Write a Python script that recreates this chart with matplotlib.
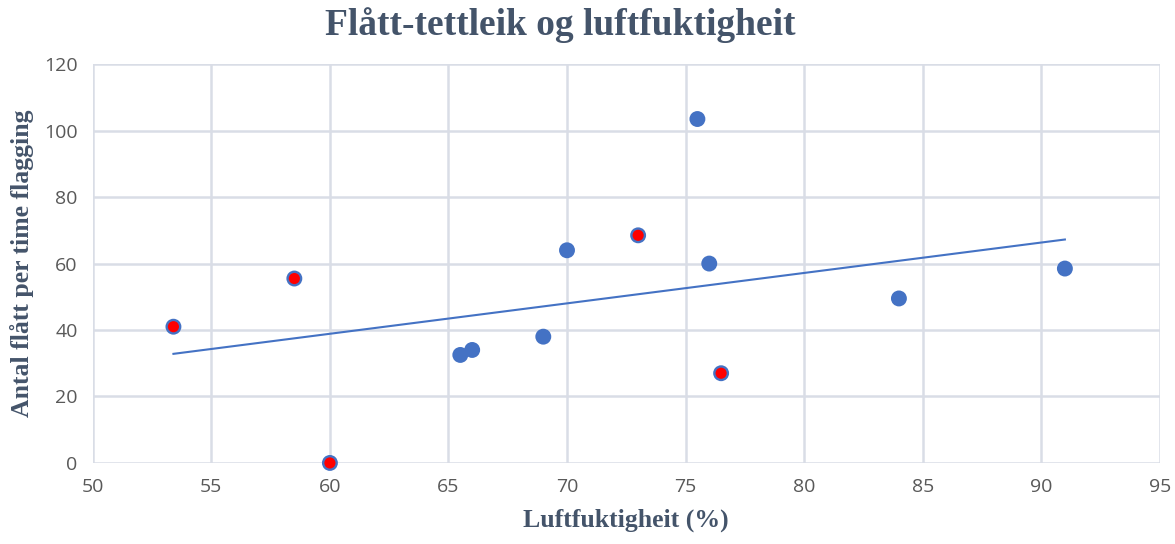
import numpy as np
import matplotlib.pyplot as plt

# === Data ===
humidity = [53.4, 58.5, 60.0, 65.5, 66.0, 69.0, 70.0, 73.0, 75.5, 76.0, 76.5, 84.0, 91.0]
ticks_per_hour = [41.0, 55.5, 0.0, 32.5, 34.0, 38.0, 64.0, 68.5, 103.5, 60.0, 27.0, 49.5, 58.5]
# points drawn with a red centre
highlighted = [True, True, True, False, False, False, False, True, False, False, True, False, False]

x_ticks = [50, 55, 60, 65, 70, 75, 80, 85, 90, 95]
y_ticks = [0, 20, 40, 60, 80, 100, 120]

blue = '#4472C4'
red = '#FF0000'
grid_col = '#D9DDE6'
text_col = '#44546A'
tick_col = '#595959'

# === Trend line (least squares, as in the spreadsheet) ===
slope, intercept = np.polyfit(humidity, ticks_per_hour, 1)
x_line = np.array([min(humidity), max(humidity)])
y_line = slope * x_line + intercept

# === Plot ===
fig = plt.figure(figsize=(11.75, 5.44), dpi=100)
ax = fig.add_axes([0.079, 0.149, 0.908, 0.733])

ax.plot(x_line, y_line, color=blue, linewidth=1.5, zorder=2)

faces = [red if h else blue for h in highlighted]
ax.scatter(humidity, ticks_per_hour, s=95, c=faces, edgecolors=blue, linewidths=1.7, zorder=3, clip_on=False)

ax.set_xlim(50, 95)
ax.set_ylim(0, 120)
ax.set_xticks(x_ticks)
ax.set_yticks(y_ticks)
ax.grid(True, color=grid_col, linewidth=1.8)
ax.set_axisbelow(True)
for side in ax.spines.values():
    side.set_visible(False)
ax.tick_params(length=0, labelsize=14, labelcolor=tick_col, pad=11)
for lab in ax.get_xticklabels() + ax.get_yticklabels():
    lab.set_family('Open Sans')

fig.text(0.477, 0.953, 'Flått-tettleik og luftfuktigheit', ha='center', va='center',
         fontsize=27, fontweight='bold', family='Liberation Serif', color=text_col)
ax.set_xlabel('Luftfuktigheit (%)', fontsize=18.5, fontweight='bold', family='Liberation Serif',
              color=text_col, labelpad=9)
fig.text(0.019, 0.517, 'Antal flått per time flagging', rotation=90, ha='center', va='center',
         fontsize=18.5, fontweight='bold', family='Liberation Serif', color=text_col)

fig.savefig('out.png', dpi=100)
